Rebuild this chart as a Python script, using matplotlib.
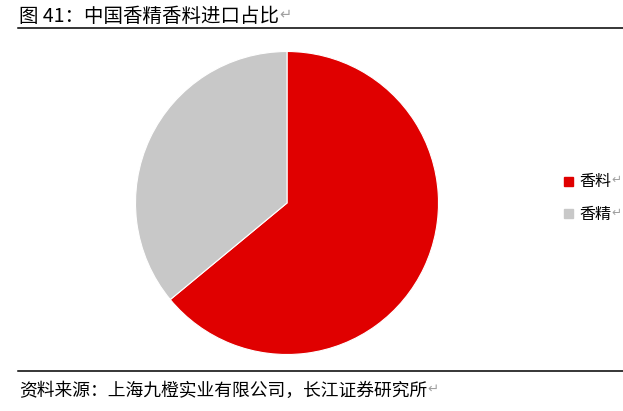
import matplotlib
matplotlib.use("Agg")
import matplotlib.pyplot as plt
from matplotlib.lines import Line2D
from matplotlib.patches import Rectangle

plt.rcParams['font.family'] = ['Noto Sans CJK SC', 'DejaVu Sans']

# data
labels = ["香料", "香精"]
shares = [64, 36]
colors = ["#E00000", "#C8C8C8"]

title = "图 41：中国香精香料进口占比"
source = "资料来源：上海九橙实业有限公司，长江证券研究所"

W, H = 623, 411
fig = plt.figure(figsize=(W / 100, H / 100), dpi=100)

def fx(px):
    return px / W

def fy(py):
    return 1 - py / H

# pie axes: centre (287, 203), radius ~151 px
cx, cy, r = 287, 203, 151.5
ax = fig.add_axes([fx(cx - r), fy(cy + r), 2 * r / W, 2 * r / H])
ax.pie(shares, colors=colors, startangle=90, counterclock=False,
       wedgeprops=dict(edgecolor="white", linewidth=0.8))
ax.set_xlim(-1, 1)
ax.set_ylim(-1, 1)
ax.set_aspect("auto")
ax.axis("off")

# header / footer rules
fig.add_artist(Line2D([fx(18), fx(623)], [fy(28.5), fy(28.5)], color="black", lw=1.1))
fig.add_artist(Line2D([fx(18), fx(623)], [fy(371), fy(371)], color="black", lw=1.1))

# text followed by a grey paragraph mark
def put_text(x, y, s, size):
    t = fig.text(fx(x), fy(y), s, fontsize=size, va="center", ha="left", color="black")
    fig.canvas.draw()
    bb = t.get_window_extent()
    fig.text(bb.x1 / W + 0.001, fy(y) + 0.004, "↵", fontsize=size * 0.75,
             va="center", ha="left", color="#A0A0A0", family="DejaVu Sans")

put_text(19, 16, title, 14)
put_text(19, 391, source, 12.8)

# legend
leg_y = [181, 214]
for lab, col, y in zip(labels, colors, leg_y):
    fig.add_artist(Rectangle((fx(564), fy(y + 4.5)), 9 / W, 9 / H, color=col,
                             transform=fig.transFigure))
    put_text(579, y, lab, 11.5)

fig.savefig("out.png", dpi=100)
